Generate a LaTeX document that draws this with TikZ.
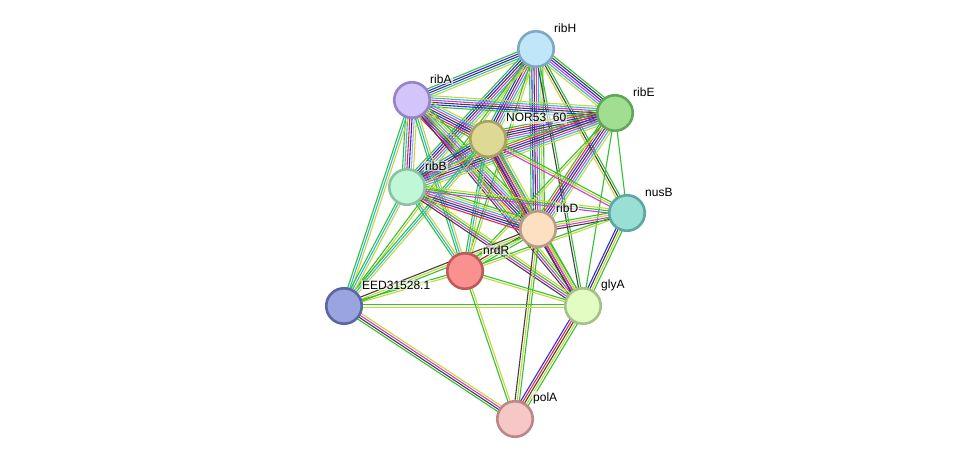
\documentclass[tikz,border=0pt]{standalone}
\usepackage{fontspec}
\setmainfont{Liberation Sans}
\usetikzlibrary{calc}
\pgfdeclarelayer{bg}
\pgfsetlayers{bg,main}
\definecolor{eg}{HTML}{33C033}
\definecolor{ey}{HTML}{C6D63A}
\definecolor{ek}{HTML}{404040}
\definecolor{em}{HTML}{D43AD4}
\definecolor{ec}{HTML}{30B8D8}
\definecolor{eb}{HTML}{2A2AF0}
\definecolor{er}{HTML}{F02A2A}
\definecolor{el}{HTML}{A8A8F0}
\newcounter{ecnt}
\newcommand\edg[3]{%
  \setcounter{ecnt}{0}%
  \foreach \c in {#3}{\stepcounter{ecnt}}%
  \foreach \c [count=\i] in {#3}{%
    \pgfmathsetmacro\off{(\i-(\theecnt+1)/2)*2.2}%
    \draw[draw=\c,line width=1.1pt] ($(#1.center)!\off pt!90:(#2.center)$) -- ($(#2.center)!\off pt!-90:(#1.center)$);
  }}
\tikzset{
  prot/.style={circle,minimum size=35.5pt,inner sep=0pt,line width=2.6pt},
  lab/.style={font=\fontsize{12}{14}\selectfont,anchor=west,inner sep=1pt,fill=white,fill opacity=0.6,text opacity=1}
}
\begin{document}
\begin{tikzpicture}[x=1pt,y=-1pt]
\useasboundingbox (0,0) rectangle (975,464);
\node[prot,fill={rgb,255:red,191;green,230;blue,249},draw={rgb,255:red,127;green,168;blue,198}] (H) at (536,49) {};
\node[prot,fill={rgb,255:red,211;green,196;blue,252},draw={rgb,255:red,150;green,131;blue,200}] (A) at (412,100) {};
\node[prot,fill={rgb,255:red,162;green,222;blue,146},draw={rgb,255:red,98;green,166;blue,90}] (E) at (615,113) {};
\node[prot,fill={rgb,255:red,222;green,218;blue,150},draw={rgb,255:red,168;green,164;blue,96}] (N) at (488,139) {};
\node[prot,fill={rgb,255:red,192;green,247;blue,215},draw={rgb,255:red,138;green,194;blue,164}] (B) at (407,187) {};
\node[prot,fill={rgb,255:red,154;green,223;blue,214},draw={rgb,255:red,92;green,167;blue,159}] (U) at (627,213) {};
\node[prot,fill={rgb,255:red,253;green,223;blue,194},draw={rgb,255:red,184;green,156;blue,132}] (D) at (538,229) {};
\node[prot,fill={rgb,255:red,249;green,145;blue,145},draw={rgb,255:red,192;green,90;blue,90}] (R) at (465,271) {};
\node[prot,fill={rgb,255:red,154;green,164;blue,223},draw={rgb,255:red,90;green,102;blue,166}] (X) at (344,306) {};
\node[prot,fill={rgb,255:red,226;green,252;blue,194},draw={rgb,255:red,164;green,194;blue,135}] (G) at (583,306) {};
\node[prot,fill={rgb,255:red,246;green,199;blue,199},draw={rgb,255:red,190;green,135;blue,135}] (P) at (515,419) {};
\node[lab] (lH) at ($(H)+(17,-21)$) {ribH};
\node[lab] (lA) at ($(A)+(17,-21)$) {ribA};
\node[lab] (lE) at ($(E)+(17,-21)$) {ribE};
\node[lab] (lN) at ($(N)+(17,-21)$) {NOR53\_60};
\node[lab] (lB) at ($(B)+(17,-21)$) {ribB};
\node[lab] (lU) at ($(U)+(17,-21)$) {nusB};
\node[lab] (lD) at ($(D)+(17,-21)$) {ribD};
\node[lab] (lR) at ($(R)+(17,-21)$) {nrdR};
\node[lab] (lX) at ($(X)+(17,-21)$) {EED31528.1};
\node[lab] (lG) at ($(G)+(17,-21)$) {glyA};
\node[lab] (lP) at ($(P)+(17,-21)$) {polA};
\begin{pgfonlayer}{bg}
\edg{H}{A}{eg,eb,ek,ec,ey}
\edg{H}{E}{ey,ec,em,eb,ek,eg}
\edg{H}{N}{eg,eb,ek,em,ec,ey}
\edg{H}{B}{eg,eb,ek,em,ec,ey}
\edg{H}{D}{eg,eb,ek,em,ec,ey,eg}
\edg{H}{R}{eg,ey}
\edg{H}{U}{ey,ek,eg}
\edg{H}{G}{ek,eg}
\edg{H}{X}{eg,ey}
\edg{A}{E}{eg,eb,ek,em,ec,ey}
\edg{A}{N}{eg,er,eb,ek,em,ec,ey}
\edg{A}{B}{eg,ec,er,eb,el,ey}
\edg{A}{D}{er,eb,ek,em,ec,ey,eg}
\edg{A}{R}{eg,ec,ey}
\edg{A}{G}{ek,em,eg,ey}
\edg{A}{X}{eg,ec,ey}
\edg{E}{N}{eg,er,eb,ek,em,ec,ey}
\edg{E}{B}{eg,er,eb,ek,em,ec,ey}
\edg{E}{D}{eg,er,eb,ek,em,ec,ey}
\edg{E}{U}{eg}
\edg{E}{G}{eg}
\edg{E}{R}{eg,ey}
\edg{N}{B}{eg,eb,ek,em,ec,ey}
\edg{N}{D}{eg,er,eb,ek,em,ec,ey}
\edg{N}{R}{eg,ec,ey}
\edg{N}{G}{ek,em,ey,eg}
\edg{N}{U}{em,ey,eg}
\edg{N}{X}{eg,ec,ey}
\edg{B}{D}{er,eb,ek,em,ec,ey,eg}
\edg{B}{R}{eg,ec,ey}
\edg{B}{G}{ek,em,eg,ey}
\edg{B}{X}{eg,ec,ey}
\edg{B}{U}{em,eg,ey}
\edg{D}{U}{ek,em,ey,eg}
\edg{D}{R}{ek,ey,eg}
\edg{D}{G}{ek,em,ey,eg}
\edg{D}{P}{ek,ey,eg}
\edg{D}{X}{ek,ey,eg}
\edg{U}{G}{eb,ek,ey,eg}
\edg{U}{R}{eg,ey}
\edg{G}{R}{eg,ey}
\edg{G}{X}{eg,ey}
\edg{G}{P}{eb,er,ek,ey,eg}
\edg{R}{P}{eg,ey}
\edg{X}{P}{eg,ek,em,ey}
\edg{R}{X}{eg,ey}
\end{pgfonlayer}
\end{tikzpicture}
\end{document}
